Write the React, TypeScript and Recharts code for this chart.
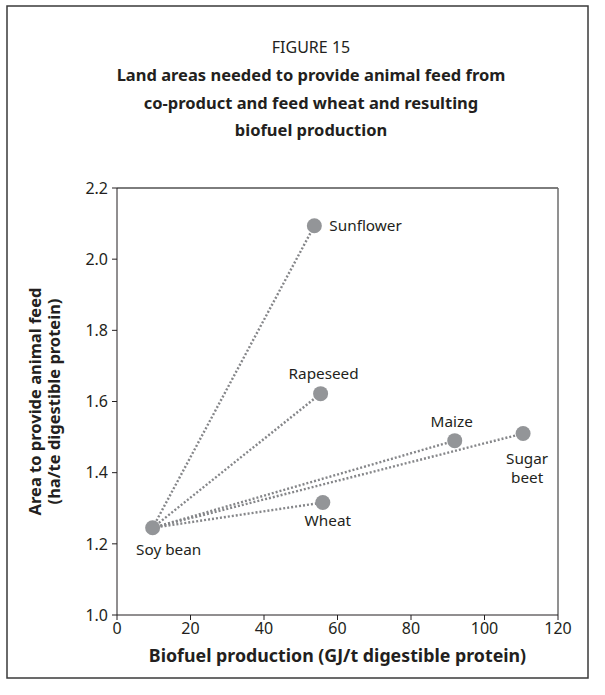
import React from "react";
import {
  ScatterChart,
  Scatter,
  XAxis,
  YAxis,
  ReferenceLine,
  Label,
} from "recharts";

// values
const crops = ["Soy bean", "Wheat", "Maize", "Sugar beet", "Rapeseed", "Sunflower"];
const biofuelProduction = [9.7, 56.0, 91.9, 110.5, 55.4, 53.7];
const landArea = [1.245, 1.316, 1.49, 1.51, 1.622, 2.094];

const xTicks = [0, 20, 40, 60, 80, 100, 120];
const yTicks = [1.0, 1.2, 1.4, 1.6, 1.8, 2.0, 2.2];

const titleLines = [
  "Land areas needed to provide animal feed from",
  "co-product and feed wheat and resulting",
  "biofuel production",
];

const points = crops.map((name, i) => ({
  name,
  x: biofuelProduction[i],
  y: landArea[i],
}));

// every other crop is joined to soy bean by a dotted line
const links = points.slice(1).map((p) => [points[0], p]);

const FONT = "'Noto Sans', 'Open Sans', sans-serif";
const INK = "#231f20";
const MARKER = "#939598";

// where each label sits relative to its marker
const labelPlace: Record<string, { dx: number; dy: number; anchor: string; lines: string[] }> = {
  "Soy bean": { dx: 16, dy: 27, anchor: "middle", lines: ["Soy bean"] },
  Wheat: { dx: 5, dy: 23, anchor: "middle", lines: ["Wheat"] },
  Maize: { dx: -3, dy: -14, anchor: "middle", lines: ["Maize"] },
  "Sugar beet": { dx: 4, dy: 30, anchor: "middle", lines: ["Sugar", "beet"] },
  Rapeseed: { dx: 3, dy: -15, anchor: "middle", lines: ["Rapeseed"] },
  Sunflower: { dx: 15, dy: 5, anchor: "start", lines: ["Sunflower"] },
};

const CropPoint = (props: any) => {
  const { cx, cy, payload } = props;
  const place = labelPlace[payload.name];
  return (
    <g>
      <circle cx={cx} cy={cy} r={7.5} fill={MARKER} />
      {place.lines.map((l, i) => (
        <text
          key={l}
          x={cx + place.dx}
          y={cy + place.dy + i * 19}
          textAnchor={place.anchor}
          fontFamily={FONT}
          fontSize={15.3}
          fill={INK}
        >
          {l}
        </text>
      ))}
    </g>
  );
};

const YTitle = (props: any) => {
  const { viewBox } = props;
  const cy = viewBox.y + viewBox.height / 2;
  const x1 = viewBox.x - 16;
  const x2 = viewBox.x + 3;
  return (
    <g fontFamily={FONT} fontSize={16.5} fontWeight="bold" fill={INK}>
      <text x={x1} y={cy} textAnchor="middle" transform={`rotate(-90 ${x1} ${cy})`}>
        Area to provide animal feed
      </text>
      <text x={x2} y={cy} textAnchor="middle" transform={`rotate(-90 ${x2} ${cy})`}>
        (ha/te digestible protein)
      </text>
    </g>
  );
};

const XTitle = (props: any) => {
  const { viewBox } = props;
  return (
    <text
      x={viewBox.x + viewBox.width / 2}
      y={viewBox.y + 47}
      textAnchor="middle"
      fontFamily={FONT}
      fontSize={17.8}
      fontWeight="bold"
      fill={INK}
    >
      Biofuel production (GJ/t digestible protein)
    </text>
  );
};

export default function App() {
  return (
    <div style={{ position: "relative", width: 605, height: 695, background: "#fff", overflow: "hidden" }}>
      <style>{`body{margin:0}`}</style>
      <svg width={605} height={695} style={{ position: "absolute", left: 0, top: 0 }}>
        <rect x={7} y={6} width={581} height={672} fill="none" stroke="#3a3a3a" strokeWidth={1.5} />
        <text x={311} y={53} textAnchor="middle" fontFamily={FONT} fontSize={16} fill={INK}>
          FIGURE 15
        </text>
        {titleLines.map((t, i) => (
          <text
            key={t}
            x={311}
            y={81 + i * 27.5}
            textAnchor="middle"
            fontFamily={FONT}
            fontSize={16.5}
            fontWeight="bold"
            fill={INK}
          >
            {t}
          </text>
        ))}
      </svg>
      <div style={{ position: "absolute", left: 0, top: 0 }}>
        <ScatterChart
          width={605}
          height={695}
          margin={{ top: 188, right: 47, bottom: 50, left: 57 }}
        >
          <XAxis
            type="number"
            dataKey="x"
            domain={[0, 120]}
            ticks={xTicks}
            height={30}
            stroke={INK}
            tickSize={5}
            tickMargin={3}
            tick={{ fill: INK, fontSize: 16, fontFamily: FONT }}
            label={<Label content={<XTitle />} />}
          />
          <YAxis
            type="number"
            dataKey="y"
            domain={[1.0, 2.2]}
            ticks={yTicks}
            width={60}
            stroke={INK}
            tickSize={5}
            tickMargin={4}
            tickFormatter={(v: number) => v.toFixed(1)}
            tick={{ fill: INK, fontSize: 16, fontFamily: FONT }}
            label={<Label content={<YTitle />} />}
          />
          <ReferenceLine y={2.2} stroke="#7d7d7d" strokeWidth={2} />
          <ReferenceLine x={120} stroke="#6d6d6d" strokeWidth={1.5} />
          {links.map((seg, i) => (
            <Scatter
              key={i}
              data={seg}
              line={{ stroke: "#858689", strokeWidth: 2.4, strokeDasharray: "2 2" }}
              shape={() => <g />}
              isAnimationActive={false}
            />
          ))}
          <Scatter data={points} shape={<CropPoint />} isAnimationActive={false} />
        </ScatterChart>
      </div>
    </div>
  );
}
